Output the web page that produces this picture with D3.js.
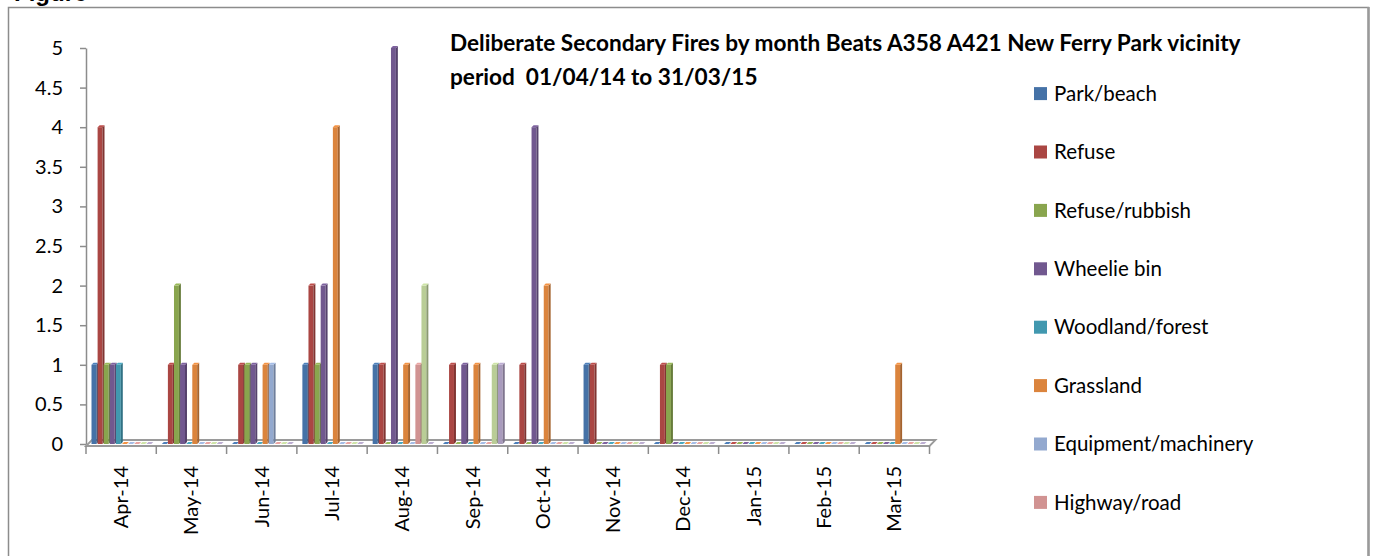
<!DOCTYPE html>
<html>
<head>
<meta charset="utf-8">
<script src="https://cdn.jsdelivr.net/npm/d3@7"></script>
<style>
  body { margin: 0; background: #fff; }
  text { font-family: Lato, "Open Sans", sans-serif; }
</style>
</head>
<body>
<div id="chart"></div>
<script>
// months along the x axis
var months = ["Apr-14", "May-14", "Jun-14", "Jul-14", "Aug-14", "Sep-14",
              "Oct-14", "Nov-14", "Dec-14", "Jan-15", "Feb-15", "Mar-15"];

// series names (legend only shows the first eight, the rest are cut off)
var seriesNames = ["Park/beach", "Refuse", "Refuse/rubbish", "Wheelie bin",
                   "Woodland/forest", "Grassland", "Equipment/machinery",
                   "Highway/road", "Other 1", "Other 2"];

var parkBeach   = [1, 0, 0, 1, 1, 0, 0, 1, 0, 0, 0, 0];
var refuse      = [4, 1, 1, 2, 1, 1, 1, 1, 1, 0, 0, 0];
var refuseRub   = [1, 2, 1, 1, 0, 0, 0, 0, 1, 0, 0, 0];
var wheelieBin  = [1, 1, 1, 2, 5, 1, 4, 0, 0, 0, 0, 0];
var woodland    = [1, 0, 0, 0, 0, 0, 0, 0, 0, 0, 0, 0];
var grassland   = [0, 1, 1, 4, 1, 1, 2, 0, 0, 0, 0, 1];
var equipment   = [0, 0, 1, 0, 0, 0, 0, 0, 0, 0, 0, 0];
var highway     = [0, 0, 0, 0, 1, 0, 0, 0, 0, 0, 0, 0];
var other1      = [0, 0, 0, 0, 2, 1, 0, 0, 0, 0, 0, 0];
var other2      = [0, 0, 0, 0, 0, 1, 0, 0, 0, 0, 0, 0];

var yTicks = [0, 0.5, 1, 1.5, 2, 2.5, 3, 3.5, 4, 4.5, 5];

var colors = ["#4572A7", "#AA4643", "#89A54E", "#71588F", "#4198AF",
              "#DB843D", "#93A9CF", "#D19392", "#B9CD96", "#A99BBD"];

var seriesValues = [parkBeach, refuse, refuseRub, wheelieBin, woodland,
                    grassland, equipment, highway, other1, other2];

var W = 1373, H = 556;
var depth = 2;   // fake 3d depth of a bar

var svg = d3.select('#chart')
    .append('svg')
    .attr('width', W)
    .attr('height', H);

// outer frame (runs off the bottom of the picture)
svg.append('rect')
    .attr('x', 8.5).attr('y', 7.5)
    .attr('width', 1360).attr('height', 600)
    .attr('fill', 'none')
    .attr('stroke', '#8c8c8c')
    .attr('stroke-width', 1.5);
svg.append('line')
    .attr('x1', 1368.5).attr('x2', 1368.5)
    .attr('y1', 7).attr('y2', H)
    .attr('stroke', '#9a9a9a').attr('stroke-width', 2.5);

// caption above the frame, mostly cut off in the original too
svg.append('text')
    .attr('x', 14).attr('y', 1)
    .style('font-family', '"Liberation Sans", Arial, sans-serif')
    .style('font-weight', 'bold')
    .style('font-size', '24px')
    .text('Figure');

var x = d3.scaleBand()
    .domain(months)
    .range([86, 929.5]);

var xs = d3.scaleBand()
    .domain(d3.range(seriesNames.length))
    .range([5.5, 66.5]);

var y = d3.scaleLinear()
    .domain([0, 5])
    .range([444, 48]);

// floor
var floorX0 = 86, floorX1 = 929.5, fy = y(0);
svg.append('path')
    .attr('d', 'M' + floorX0 + ',' + (fy + 2) +
               'L' + floorX1 + ',' + (fy + 2) +
               'L' + (floorX1 + 6) + ',' + (fy - 4) +
               'L' + (floorX0 + 6) + ',' + (fy - 4) + 'Z')
    .attr('fill', '#fff')
    .attr('stroke', '#9a9a9a')
    .attr('stroke-width', 1.8);

// y axis
var yAxis = svg.append('g')
    .attr('transform', 'translate(86,0)')
    .call(d3.axisLeft(y).tickValues(yTicks).tickSize(6).tickSizeOuter(0)
        .tickFormat(d3.format('')));
yAxis.select('.domain').attr('stroke', '#8c8c8c').attr('stroke-width', 1.5);
yAxis.selectAll('.tick line').attr('stroke', '#8c8c8c').attr('stroke-width', 1.5);
yAxis.selectAll('.tick text')
    .attr('x', -23)
    .style('font-size', '20px')
    .style('font-family', 'Lato, sans-serif')
    .attr('fill', '#000');

// bars, drawn month by month, left to right so each bar hides the side of the previous one
var bars = [];
months.forEach(function(m, mi){
    seriesValues.forEach(function(vals, si){
        bars.push({month: m, s: si, v: vals[mi]});
    });
});

var barG = svg.append('g');
bars.forEach(function(d){
    var x0 = x(d.month) + xs(d.s);
    var w = xs.bandwidth() - 1.2;
    var y0 = y(0), y1 = y(d.v);
    var c = d3.color(colors[d.s]);
    var g = barG.append('g');
    if (d.v > 0) {
        g.append('rect')
            .attr('x', x0).attr('y', y1)
            .attr('width', w).attr('height', y0 - y1)
            .attr('fill', c);
    }
    // side face
    g.append('path')
        .attr('d', 'M' + (x0 + w) + ',' + y0 + 'L' + (x0 + w) + ',' + y1 +
                   'L' + (x0 + w + depth) + ',' + (y1 - depth) +
                   'L' + (x0 + w + depth) + ',' + (y0 - depth) + 'Z')
        .attr('fill', c.darker(0.8));
    // top face
    g.append('path')
        .attr('d', 'M' + x0 + ',' + y1 + 'L' + (x0 + depth) + ',' + (y1 - depth) +
                   'L' + (x0 + w + depth) + ',' + (y1 - depth) +
                   'L' + (x0 + w) + ',' + y1 + 'Z')
        .attr('fill', c.brighter(0.3));
});

// x axis: boundary ticks under the floor
var bounds = months.map(function(m){ return x(m); }).concat([x.range()[1]]);
svg.selectAll('line.xtick')
    .data(bounds)
    .enter()
    .append('line')
    .attr('class', 'xtick')
    .attr('x1', function(d){ return d; })
    .attr('x2', function(d){ return d; })
    .attr('y1', fy + 2).attr('y2', fy + 10)
    .attr('stroke', '#8c8c8c').attr('stroke-width', 1.5);

var xAxis = svg.append('g')
    .attr('transform', 'translate(0,' + (fy + 2) + ')')
    .call(d3.axisBottom(x).tickSize(0));
xAxis.select('.domain').remove();
xAxis.selectAll('.tick text')
    .attr('transform', 'rotate(-90)')
    .attr('x', -20)
    .attr('y', 0)
    .attr('dy', '0.35em')
    .attr('text-anchor', 'end')
    .style('font-size', '20px')
    .style('font-family', 'Lato, sans-serif')
    .attr('fill', '#000');

// title
var title = svg.append('text')
    .attr('x', 450)
    .style('font-weight', 'bold')
    .style('font-size', '22.6px');
title.append('tspan').attr('x', 450).attr('y', 51)
    .text('Deliberate Secondary Fires by month Beats A358 A421 New Ferry Park vicinity');
title.append('tspan').attr('x', 450).attr('y', 85)
    .attr('xml:space', 'preserve')
    .text('period  01/04/14 to 31/03/15');

// legend (only first eight fit)
var legend = svg.append('g')
    .selectAll('g')
    .data(seriesNames.slice(0, 8))
    .enter()
    .append('g')
    .attr('transform', function(d, i){
        return 'translate(1034,' + (93.6 + i * 58.4) + ')';
    });
legend.append('rect')
    .attr('x', 0).attr('y', -6.5)
    .attr('width', 13).attr('height', 13)
    .attr('fill', function(d, i){ return colors[i]; });
legend.append('text')
    .attr('x', 20)
    .attr('dy', '0.35em')
    .style('font-size', '20.5px')
    .text(function(d){ return d; });
</script>
</body>
</html>
